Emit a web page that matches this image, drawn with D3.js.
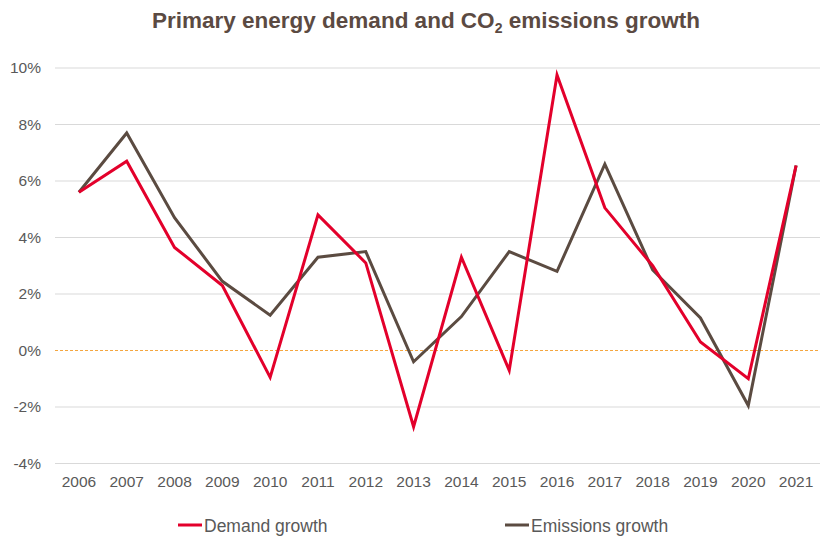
<!DOCTYPE html>
<html><head><meta charset="utf-8">
<script src="https://cdn.jsdelivr.net/npm/d3@7"></script>
<style>body{margin:0;background:#fff}svg{display:block}</style>
</head><body>
<script>
const years = ["2006","2007","2008","2009","2010","2011","2012","2013","2014","2015","2016","2017","2018","2019","2020","2021"];
const demandGrowth = [5.6,6.7,3.65,2.3,-0.95,4.8,3.1,-2.7,3.3,-0.7,9.75,5.05,3.0,0.3,-1.0,6.55];
const emissionsGrowth = [5.6,7.7,4.7,2.45,1.25,3.3,3.5,-0.4,1.2,3.5,2.8,6.6,2.85,1.15,-1.95,6.55];
const yTicks = [-4,-2,0,2,4,6,8,10];

const W=830,H=538;
const svg=d3.select("body").append("svg").attr("width",W).attr("height",H);
const font="Liberation Sans, Arial, sans-serif";
const x=d3.scaleBand().domain(years).range([55,820]);
const y=d3.scaleLinear().domain([-4,10]).range([463.5,68]);

// title
const t=svg.append("text").attr("x",426).attr("y",28).attr("text-anchor","middle")
  .attr("font-family",font).attr("font-weight","bold").attr("font-size",22.5).attr("fill","#5B4A42");
t.append("tspan").text("Primary energy demand and CO");
t.append("tspan").text("2").attr("font-size",14).attr("dy",5);
t.append("tspan").text(" emissions growth").attr("dy",-5);

// gridlines
svg.append("g").selectAll("line").data(yTicks.filter(d=>d!==0)).join("line")
  .attr("x1",55).attr("x2",820).attr("y1",d=>y(d)).attr("y2",d=>y(d))
  .attr("stroke","#D9D9D9").attr("stroke-width",1);
svg.append("line").attr("x1",55).attr("x2",820).attr("y1",y(0)).attr("y2",y(0))
  .attr("stroke","#F4A640").attr("stroke-width",1.2).attr("stroke-dasharray","3,2");

// y axis labels
const ya=svg.append("g").attr("transform","translate(55,0)")
  .call(d3.axisLeft(y).tickValues(yTicks).tickFormat(d=>d+"%").tickSize(0).tickPadding(14));
ya.select(".domain").remove();
ya.selectAll("text").attr("font-family",font).attr("font-size",15.5).attr("fill","#595959");

// x axis
const xa=svg.append("g").attr("transform",`translate(0,${y(-4)})`)
  .call(d3.axisBottom(x).tickSize(0).tickPadding(12));
xa.select(".domain").remove();
xa.selectAll("text").attr("font-family",font).attr("font-size",15.5).attr("fill","#595959");

const line=d3.line().x((d,i)=>x(years[i])+x.bandwidth()/2).y(d=>y(d));
svg.append("path").datum(emissionsGrowth).attr("d",line).attr("fill","none")
  .attr("stroke","#5B4B41").attr("stroke-width",3).attr("stroke-linejoin","miter");
svg.append("path").datum(demandGrowth).attr("d",line).attr("fill","none")
  .attr("stroke","#E3002B").attr("stroke-width",3).attr("stroke-linejoin","miter");

// legend
const legend=[{name:"Demand growth",color:"#E3002B",x:178},{name:"Emissions growth",color:"#5B4B41",x:505}];
const lg=svg.append("g").selectAll("g").data(legend).join("g");
lg.append("line").attr("x1",d=>d.x).attr("x2",d=>d.x+24).attr("y1",525).attr("y2",525)
  .attr("stroke",d=>d.color).attr("stroke-width",3);
lg.append("text").attr("x",d=>d.x+26).attr("y",531.5).text(d=>d.name)
  .attr("font-family",font).attr("font-size",17.5).attr("fill","#595959");
</script>
</body></html>
